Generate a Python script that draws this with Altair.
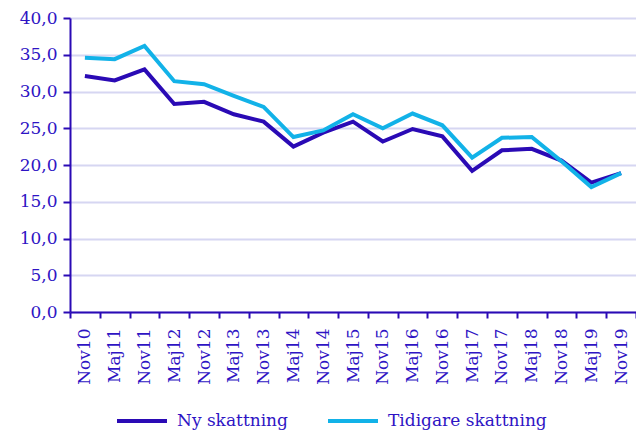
import altair as alt
import pandas as pd

periods = ["Nov10", "Maj11", "Nov11", "Maj12", "Nov12", "Maj13", "Nov13", "Maj14",
           "Nov14", "Maj15", "Nov15", "Maj16", "Nov16", "Maj17", "Nov17", "Maj18",
           "Nov18", "Maj19", "Nov19"]
ny = [32.1, 31.5, 33.0, 28.3, 28.6, 26.9, 25.9, 22.5, 24.4, 25.9, 23.2, 24.9,
      23.9, 19.2, 22.0, 22.2, 20.6, 17.6, 18.9]
tidigare = [34.6, 34.4, 36.2, 31.4, 31.0, 29.4, 27.9, 23.8, 24.7, 26.9, 25.0, 27.0,
            25.4, 21.0, 23.7, 23.8, 20.5, 17.0, 18.9]
series = ["Ny skattning", "Tidigare skattning"]

rows = []
for p, a, b in zip(periods, ny, tidigare):
    rows.append({"period": p, "serie": series[0], "value": a})
    rows.append({"period": p, "serie": series[1], "value": b})
df = pd.DataFrame(rows)

TXT = "#2e14c4"
FONT = "DejaVu Serif"

chart = alt.Chart(df).mark_line(strokeWidth=4).encode(
    x=alt.X("period:N", sort=periods, title=None,
            scale=alt.Scale(paddingInner=0, paddingOuter=0),
            axis=alt.Axis(labelAngle=-90, tickBand="extent", grid=False,
                          domainColor="#2a0ab5", domainWidth=2,
                          tickColor="#2a0ab5", tickWidth=2, tickSize=6,
                          labelColor=TXT, labelFont=FONT, labelFontSize=17,
                          labelPadding=10, labelBaseline="middle")),
    y=alt.Y("value:Q", title=None,
            scale=alt.Scale(domain=[0, 40]),
            axis=alt.Axis(values=list(range(0, 41, 5)),
                          labelExpr="replace(format(datum.value, '.1f'), '.', ',')",
                          grid=True, gridColor="#d6d6f2", gridWidth=2,
                          domainColor="#2a0ab5", domainWidth=2,
                          tickColor="#2a0ab5", tickWidth=2, tickSize=7,
                          labelColor=TXT, labelFont=FONT, labelFontSize=17,
                          labelPadding=6)),
    color=alt.Color("serie:N", sort=series,
                    scale=alt.Scale(domain=series, range=["#2a0ab5", "#12b2e8"]),
                    legend=alt.Legend(title=None, orient="none", direction="horizontal",
                                      legendX=45, legendY=376,
                                      symbolType="stroke", symbolSize=2500,
                                      symbolStrokeWidth=4, labelOffset=8,
                                      columnPadding=32, labelBaseline="middle",
                                      labelColor=TXT, labelFont=FONT, labelFontSize=17)),
).properties(
    width=566, height=294,
    autosize=alt.AutoSizeParams(type="none"),
    padding={"left": 62, "top": 10, "right": 0, "bottom": 121},
).configure_view(stroke=None)

chart.save("out.html", embed_options={"renderer": "svg", "actions": False})
